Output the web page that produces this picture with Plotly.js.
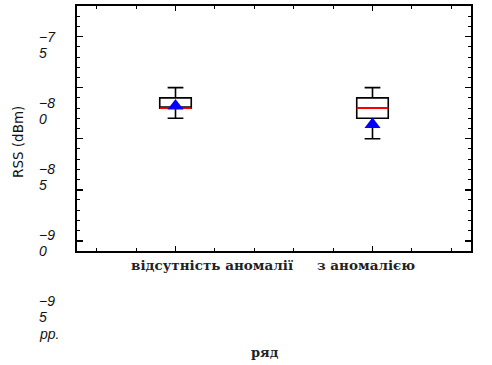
<!DOCTYPE html>
<html>
<head>
<meta charset="utf-8">
<script src="https://cdn.plot.ly/plotly-3.0.1.min.js"></script>
<style>html,body{margin:0;padding:0;background:#fff;}#chart{width:492px;height:365px;}</style>
</head>
<body>
<div id="chart"></div>
<script>
// ---- data ----
const categories = ["відсутність аномалії", "з аномалією"];
const upperWhisker = [-80, -80];
const q3Values = [-81, -81];
const medianValues = [-82, -82];
const q1Values = [-82, -83];
const lowerWhisker = [-83, -85];
const meanValues = [-81.8, -83.6];
const yTickValues = [-75, -80, -85, -90, -95];
const yTickText = ["−7<br>5", "−8<br>0", "−8<br>5", "−9<br>0", "−9<br>5<br>pp."];
const xTitle = "ряд";
const yTitle = "RSS (dBm)";

// ---- layout helpers ----
const W = 492, H = 365;
const M = {l: 77, r: 21, t: 6, b: 114};
const PW = W - M.l - M.r, PH = H - M.t - M.b;
const px2x = p => (p - M.l) / PW;
const px2y = p => 1 - (p - M.t) / PH;
const xs = categories.map((c, i) => i);

const traces = [];
xs.forEach((x, i) => {
  traces.push({
    type: 'box', x: [x], q1: [q1Values[i]], median: [medianValues[i]], q3: [q3Values[i]],
    lowerfence: [lowerWhisker[i]], upperfence: [upperWhisker[i]],
    width: 0.16, whiskerwidth: 0.5,
    line: {color: '#000', width: 1.6}, fillcolor: 'rgba(255,255,255,0)',
    hoverinfo: 'skip', showlegend: false
  });
  traces.push({
    type: 'box', x: [x], q1: [medianValues[i]], median: [medianValues[i]], q3: [medianValues[i]],
    lowerfence: [medianValues[i]], upperfence: [medianValues[i]],
    width: 0.16, whiskerwidth: 0,
    line: {color: '#ff0000', width: 1.6}, fillcolor: 'rgba(255,255,255,0)',
    hoverinfo: 'skip', showlegend: false
  });
});
traces.push({
  type: 'scatter', mode: 'markers', x: xs, y: meanValues,
  marker: {symbol: 'triangle-up', size: 14, color: '#0000ff'},
  hoverinfo: 'skip', showlegend: false
});

const annotations = [];
yTickText.forEach((t, i) => {
  t.split('<br>').forEach((line, j) => {
    annotations.push({
      text: '<i>' + line + '</i>', xref: 'paper', yref: 'paper',
      x: px2x(37), y: px2y(37 + 66 * i + 16.3 * j), xanchor: 'left', yanchor: 'middle', align: 'left',
      showarrow: false, font: {family: 'Liberation Sans, Arial, sans-serif', size: 14, color: '#111'}
    });
  });
});
const xLabelCenters = [212, 366];
categories.forEach((c, i) => {
  annotations.push({
    text: '<b>' + c + '</b>', xref: 'paper', yref: 'paper',
    x: px2x(xLabelCenters[i]), y: px2y(265), xanchor: 'center', yanchor: 'middle',
    showarrow: false, font: {family: 'DejaVu Serif, serif', size: 13.5, color: '#222'}
  });
});
annotations.push({
  text: '<b>' + xTitle + '</b>', xref: 'paper', yref: 'paper',
  x: px2x(265), y: px2y(352), xanchor: 'center', yanchor: 'middle',
  showarrow: false, font: {family: 'DejaVu Serif, serif', size: 13, color: '#222'}
});
annotations.push({
  text: yTitle, xref: 'paper', yref: 'paper', textangle: -90,
  x: px2x(18), y: px2y(142), xanchor: 'center', yanchor: 'middle',
  showarrow: false, font: {family: 'DejaVu Sans, sans-serif', size: 13.5, color: '#111'}
});

const layout = {
  width: W, height: H, margin: M,
  paper_bgcolor: '#fff', plot_bgcolor: '#fff',
  boxmode: 'overlay',
  xaxis: {
    range: [-0.5, 1.5], tickvals: xs, ticktext: categories, showticklabels: false,
    ticks: 'inside', ticklen: 5, tickwidth: 1.5, tickcolor: '#000',
    minor: {dtick: 0.2, tick0: 0, ticks: 'inside', ticklen: 3, tickwidth: 1, tickcolor: '#000'},
    showline: true, linecolor: '#000', linewidth: 2, mirror: 'ticks',
    showgrid: false, zeroline: false
  },
  yaxis: {
    range: [-96, -72], tickvals: yTickValues, showticklabels: false,
    ticks: 'inside', ticklen: 6, tickwidth: 1.5, tickcolor: '#000',
    minor: {dtick: 1, tick0: 0, ticks: 'inside', ticklen: 3, tickwidth: 1, tickcolor: '#000'},
    showline: true, linecolor: '#000', linewidth: 2, mirror: 'ticks',
    showgrid: false, zeroline: false
  },
  annotations: annotations
};

Plotly.newPlot('chart', traces, layout, {displayModeBar: false, staticPlot: true});
</script>
</body>
</html>
